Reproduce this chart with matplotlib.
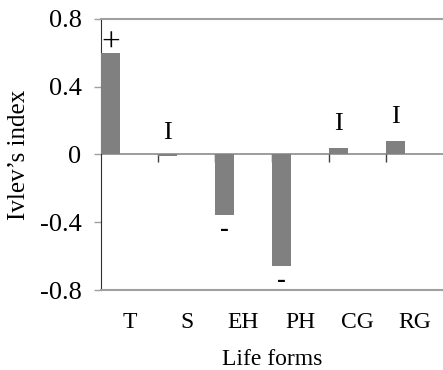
import numpy as np
import matplotlib.pyplot as plt

plt.rcParams['font.family'] = ['Liberation Serif', 'DejaVu Serif']

# Ivlev's electivity index per life form
forms = ["T", "S", "EH", "PH", "CG", "RG"]
ivlev = [0.60, -0.01, -0.36, -0.66, 0.04, 0.08]
signs = ["+", "I", "-", "-", "I", "I"]
yticks = [-0.8, -0.4, 0, 0.4, 0.8]

fig = plt.figure(figsize=(4.43, 3.70), dpi=100)
ax = fig.add_axes([0.228, 0.216, 0.772, 0.733])

x = np.arange(len(forms))
bar_w = 0.34
ax.bar(x - 0.5, ivlev, width=bar_w, align="edge", color="#808080", zorder=3)

# zero line with category separators
ax.axhline(0, color="#8c8c8c", lw=1.2, zorder=2)
ax.vlines(x[1:] - 0.5, -0.045, 0, color="#404040", lw=1, zorder=2)

# significance marks over/under bars
offsets = {"+": 7, "I": 17, "-": -10}
sizes = {"+": 24, "I": 19, "-": 19}
for xi, v, s in zip(x, ivlev, signs):
    ax.annotate(s, (xi - 0.5 + bar_w / 2, v), xytext=(0, offsets[s]),
                textcoords="offset points", ha="center", va="center",
                fontsize=sizes[s], fontweight="bold" if s == "-" else "normal")

ax.set_xlim(-0.5, len(forms) - 0.5)
ax.set_ylim(-0.8, 0.8)
ax.set_yticks(yticks)
ax.set_yticklabels(["-0.8", "-0.4", "0", "0.4", "0.8"])
ax.set_xticks(x)
ax.set_xticklabels(forms)
ax.tick_params(axis="x", length=0, pad=16, labelsize=17)
ax.tick_params(axis="y", length=5, width=1, color="#a0a0a0", pad=9, labelsize=19)

for side in ["top", "bottom"]:
    ax.spines[side].set_color("#a0a0a0")
    ax.spines[side].set_linewidth(1.5)
ax.spines["right"].set_visible(False)
ax.spines["left"].set_color("#303030")

ax.set_ylabel("Ivlev’s index", fontsize=18, labelpad=7)
ax.set_xlabel("Life forms", fontsize=17, labelpad=11)

fig.savefig("out.png", dpi=100)
